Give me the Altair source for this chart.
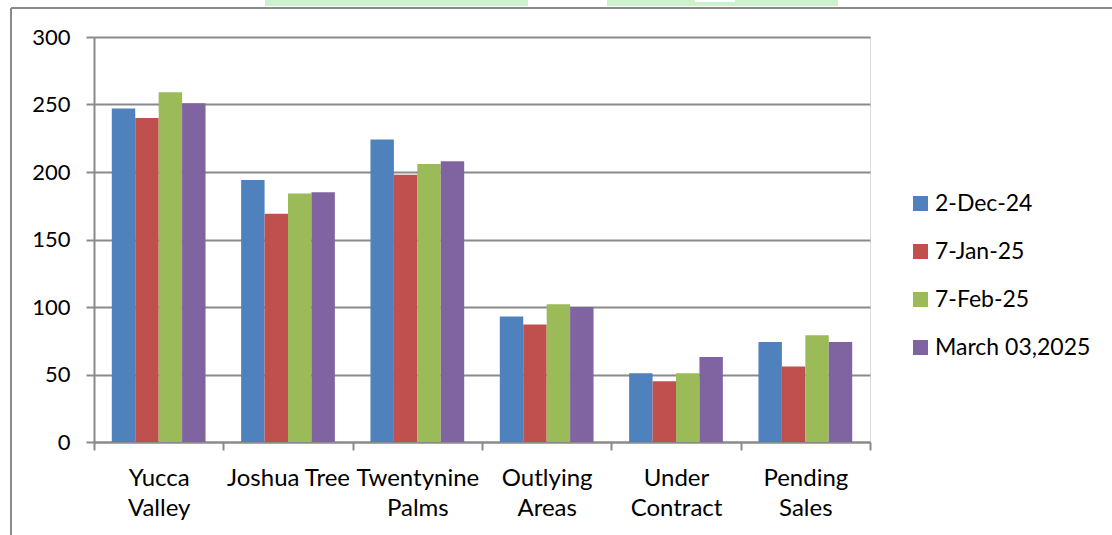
import altair as alt
import pandas as pd

# Listing counts by area for four snapshot dates
categories = ["Yucca Valley", "Joshua Tree", "Twentynine Palms",
              "Outlying Areas", "Under Contract", "Pending Sales"]
label_lines = [["Yucca", "Valley"], ["Joshua Tree"], ["Twentynine", "Palms"],
               ["Outlying", "Areas"], ["Under", "Contract"], ["Pending", "Sales"]]
series = ["2-Dec-24", "7-Jan-25", "7-Feb-25", "March 03,2025"]
dec_24 = [247, 194, 224, 93, 51, 74]
jan_25 = [240, 169, 198, 87, 45, 56]
feb_25 = [259, 184, 206, 102, 51, 79]
mar_25 = [251, 185, 208, 100, 63, 74]
colors = ["#4F81BD", "#C0504D", "#9BBB59", "#8064A2"]
y_ticks = [0, 50, 100, 150, 200, 250, 300]

rows = []
for name, vals in zip(series, [dec_24, jan_25, feb_25, mar_25]):
    for cat, v in zip(categories, vals):
        rows.append({"area": cat, "date": name, "count": v})
df = pd.DataFrame(rows)

FONT = "Lato"
GRAY = "#8a8a8a"

# multi-line category labels
label_expr = " : ".join(
    f"datum.label == '{c}' ? {lines!r}" for c, lines in zip(categories, label_lines)
) + " : datum.label"

W, H = 776, 405

bars = alt.Chart(df).mark_bar().encode(
    x=alt.X("area:N", sort=categories,
            scale=alt.Scale(paddingInner=0, paddingOuter=0),
            axis=alt.Axis(title=None, labelAngle=0, tickBand="extent",
                          labelExpr=label_expr, labelFont=FONT, labelFontSize=24,
                          labelColor="#000000", labelLineHeight=30,
                          labelPadding=16, tickSize=8, tickColor=GRAY,
                          tickWidth=2, domainColor=GRAY, domainWidth=2,
                          grid=False, labelBaseline="top")),
    xOffset=alt.XOffset("date:N", sort=series,
                        scale=alt.Scale(paddingInner=0, paddingOuter=0.76)),
    y=alt.Y("count:Q", scale=alt.Scale(domain=[0, 300], nice=False),
            axis=alt.Axis(title=None, values=y_ticks, labelFont=FONT,
                          labelFontSize=22, labelColor="#000000",
                          labelPadding=16, tickSize=8, tickColor=GRAY,
                          tickWidth=2, domainColor=GRAY, domainWidth=2,
                          gridColor=GRAY, gridWidth=2)),
    color=alt.Color("date:N", sort=series,
                    scale=alt.Scale(domain=series, range=colors),
                    legend=alt.Legend(title=None, orient="none",
                                      legendX=815, legendY=155,
                                      symbolType="square", symbolSize=225,
                                      symbolStrokeWidth=0, labelFont=FONT,
                                      labelFontSize=23, labelColor="#000000",
                                      labelOffset=3, rowPadding=24)),
)

# outer frame of the chart box
frame_df = pd.DataFrame({"k": [0]})
frame_left = alt.Chart(frame_df).mark_rule(color=GRAY, strokeWidth=2).encode(
    x=alt.value(-83), y=alt.value(-29), y2=alt.value(500))
frame_top = alt.Chart(frame_df).mark_rule(color=GRAY, strokeWidth=2).encode(
    x=alt.value(-83), x2=alt.value(1020), y=alt.value(-29))

# pale green header tabs peeking above the frame
tab1 = alt.Chart(frame_df).mark_rect(color="#CDF1CD").encode(
    x=alt.value(171), x2=alt.value(434), y=alt.value(-40), y2=alt.value(-31))
tab2 = alt.Chart(frame_df).mark_rect(color="#CDF1CD").encode(
    x=alt.value(513), x2=alt.value(744), y=alt.value(-40), y2=alt.value(-31))
notch = alt.Chart(frame_df).mark_rect(color="#FFFFFF").encode(
    x=alt.value(601), x2=alt.value(641), y=alt.value(-40), y2=alt.value(-35))

chart = alt.layer(tab1, tab2, notch, frame_left, frame_top, bars).properties(
    width=W, height=H,
    autosize=alt.AutoSizeParams(type="none"),
    padding={"left": 94, "top": 37, "right": 242, "bottom": 93},
).configure_view(stroke=None).configure(background="#FFFFFF")

chart.save("out.html", embed_options={"renderer": "svg", "actions": False})
